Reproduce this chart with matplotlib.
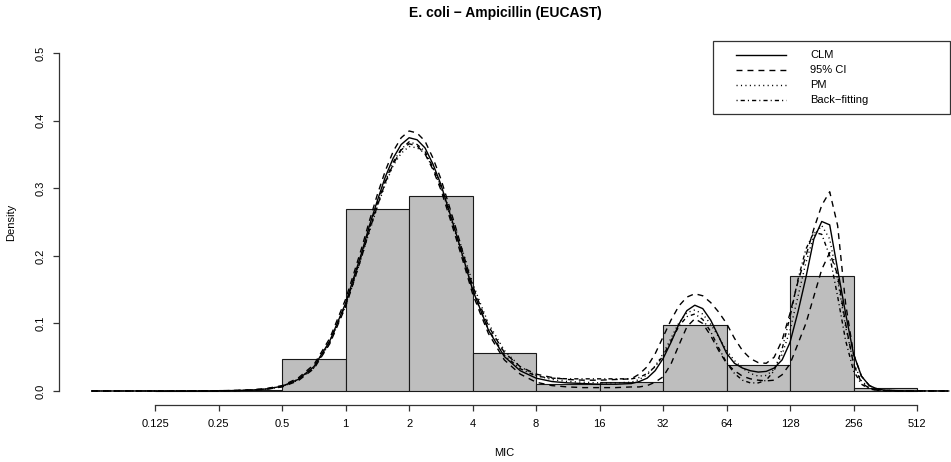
import numpy as np
import matplotlib
matplotlib.use("Agg")
import matplotlib.pyplot as plt
from matplotlib.ticker import NullLocator

plt.rcParams['font.family'] = ['Liberation Sans', 'DejaVu Sans']

# histogram of observed MICs (density per log2 bin)
BIN_EDGES = [0.125, 0.25, 0.5, 1, 2, 4, 8, 16, 32, 64, 128, 256, 512]
BIN_DENSITY = [0.0005, 0.0015, 0.047, 0.269, 0.288, 0.056, 0.011, 0.014,
               0.097, 0.039, 0.170, 0.004]

MIC_TICKS = [0.125, 0.25, 0.5, 1, 2, 4, 8, 16, 32, 64, 128, 256, 512]
MIC_LABELS = ['0.125', '0.25', '0.5', '1', '2', '4', '8', '16', '32', '64',
              '128', '256', '512']

# fitted densities, at log2(MIC) positions
LOG2_MIC = [-4, -3.5, -3, -2.5, -2, -1.75, -1.5, -1.25, -1, -0.75, -0.5, -0.25,
            0, 0.125, 0.25, 0.375, 0.5, 0.625, 0.75, 0.875, 1, 1.125, 1.25, 1.375,
            1.5, 1.625, 1.75, 1.875, 2, 2.125, 2.25, 2.5, 2.75,
            3, 3.25, 3.5, 3.75, 4, 4.25,
            4.5, 4.625, 4.75, 4.875, 5, 5.125, 5.25, 5.375, 5.5, 5.625, 5.75,
            5.875, 6, 6.125, 6.25, 6.375, 6.5, 6.625, 6.75, 6.875, 7, 7.125,
            7.25, 7.375, 7.5, 7.625, 7.75, 7.875, 8, 8.125, 8.25, 8.375, 8.5,
            8.75, 9, 9.5]

CLM = [0, 0, 0, 0.0001, 0.0003, 0.0006, 0.0013, 0.003, 0.007, 0.017, 0.036, 0.074,
       0.130, 0.167, 0.204, 0.245, 0.282, 0.317, 0.345, 0.365, 0.375, 0.372, 0.360, 0.336,
       0.306, 0.268, 0.230, 0.190, 0.150, 0.120, 0.090, 0.051, 0.030,
       0.019, 0.014, 0.012, 0.011, 0.010, 0.010,
       0.011, 0.014, 0.019, 0.030, 0.048, 0.072, 0.099, 0.119, 0.127, 0.122, 0.105,
       0.081, 0.056, 0.041, 0.034, 0.030, 0.028, 0.029, 0.034, 0.046, 0.072, 0.117,
       0.168, 0.225, 0.251, 0.246, 0.180, 0.115, 0.055, 0.022, 0.008, 0.003, 0.001,
       0.0003, 0.0001, 0]

CI_UPPER = [0, 0, 0, 0.0001, 0.0004, 0.0008, 0.0016, 0.0036, 0.008, 0.019, 0.039, 0.078,
            0.136, 0.173, 0.211, 0.252, 0.291, 0.326, 0.355, 0.375, 0.385, 0.382, 0.370, 0.345,
            0.314, 0.276, 0.237, 0.196, 0.156, 0.125, 0.096, 0.057, 0.036,
            0.025, 0.020, 0.017, 0.016, 0.016, 0.017,
            0.018, 0.025, 0.036, 0.055, 0.080, 0.105, 0.126, 0.139, 0.144, 0.141, 0.131,
            0.117, 0.100, 0.078, 0.060, 0.048, 0.042, 0.041, 0.050, 0.075, 0.115, 0.162,
            0.200, 0.240, 0.275, 0.295, 0.245, 0.130, 0.055, 0.022, 0.008, 0.003, 0.001,
            0.0003, 0.0001, 0]

CI_LOWER = [0, 0, 0, 0.0001, 0.0002, 0.0004, 0.001, 0.0025, 0.006, 0.015, 0.033, 0.070,
            0.125, 0.161, 0.198, 0.238, 0.274, 0.309, 0.336, 0.357, 0.366, 0.363, 0.351, 0.328,
            0.298, 0.261, 0.223, 0.184, 0.144, 0.114, 0.085, 0.046, 0.025,
            0.013, 0.008, 0.006, 0.005, 0.005, 0.005,
            0.006, 0.006, 0.008, 0.013, 0.021, 0.040, 0.068, 0.095, 0.107, 0.100, 0.082,
            0.060, 0.041, 0.030, 0.022, 0.018, 0.016, 0.015, 0.016, 0.024, 0.040, 0.070,
            0.100, 0.140, 0.180, 0.205, 0.172, 0.100, 0.040, 0.012, 0.004, 0.001, 0.0005,
            0.0002, 0.0001, 0]

PM = [0, 0, 0, 0.0001, 0.0003, 0.0006, 0.0012, 0.0028, 0.0065, 0.016, 0.034, 0.071,
      0.126, 0.161, 0.198, 0.236, 0.273, 0.306, 0.334, 0.352, 0.362, 0.360, 0.352, 0.330,
      0.304, 0.271, 0.235, 0.198, 0.160, 0.129, 0.100, 0.060, 0.036,
      0.023, 0.017, 0.014, 0.013, 0.012, 0.012,
      0.013, 0.017, 0.024, 0.037, 0.055, 0.078, 0.101, 0.116, 0.120, 0.114, 0.099,
      0.080, 0.060, 0.045, 0.034, 0.026, 0.022, 0.023, 0.032, 0.054, 0.090, 0.140,
      0.190, 0.230, 0.245, 0.225, 0.165, 0.095, 0.042, 0.015, 0.005, 0.002, 0.001,
      0.0003, 0.0001, 0]

BACKFIT = [0, 0, 0, 0.0001, 0.0003, 0.0006, 0.0013, 0.003, 0.007, 0.017, 0.035, 0.073,
           0.128, 0.164, 0.201, 0.241, 0.278, 0.311, 0.339, 0.358, 0.369, 0.365, 0.355, 0.331,
           0.302, 0.266, 0.228, 0.189, 0.150, 0.119, 0.091, 0.053, 0.033,
           0.022, 0.019, 0.018, 0.018, 0.018, 0.018,
           0.018, 0.020, 0.026, 0.036, 0.052, 0.074, 0.096, 0.110, 0.114, 0.106, 0.088,
           0.064, 0.042, 0.026, 0.016, 0.012, 0.012, 0.016, 0.030, 0.062, 0.110, 0.165,
           0.210, 0.235, 0.232, 0.200, 0.140, 0.075, 0.030, 0.010, 0.003, 0.001, 0.0005,
           0.0002, 0.0001, 0]

W, H = 951, 462
fig = plt.figure(figsize=(W / 100, H / 100), dpi=100)
ax = fig.add_axes([58.7 / W, 1 - 404.5 / H, (950 - 58.7) / W, (404.5 - 39.8) / H])

lefts = np.array(BIN_EDGES[:-1])
rights = np.array(BIN_EDGES[1:])
ax.bar(lefts, BIN_DENSITY, width=rights - lefts, align='edge',
       color='#bebebe', edgecolor='#1a1a1a', linewidth=0.8)

mic = 2.0 ** np.array(LOG2_MIC)
lw = 1.0
ax.plot(mic, CLM, color='black', lw=lw, ls='-')
ax.plot(mic, CI_UPPER, color='black', lw=lw, dashes=(4.3, 3.6))
ax.plot(mic, CI_LOWER, color='black', lw=lw, dashes=(4.3, 3.6))
ax.plot(mic, PM, color='black', lw=lw, dashes=(0.8, 2.4))
ax.plot(mic, BACKFIT, color='black', lw=lw, dashes=(0.8, 2.2, 3.0, 2.2))

ax.set_xscale('log', base=2)
ax.set_xlim(2 ** -4.52, 2 ** 9.52)
ax.set_ylim(-0.02, 0.52)
ax.set_xticks(MIC_TICKS)
ax.set_xticklabels(MIC_LABELS)
ax.xaxis.set_minor_locator(NullLocator())
ax.set_yticks([0, 0.1, 0.2, 0.3, 0.4, 0.5])
ax.set_yticklabels(['0.0', '0.1', '0.2', '0.3', '0.4', '0.5'], rotation=90, va='center')

for s in ['top', 'right']:
    ax.spines[s].set_visible(False)
ax.spines['left'].set_bounds(0, 0.5)
ax.spines['bottom'].set_bounds(0.125, 512)
for s in ['left', 'bottom']:
    ax.spines[s].set_color('#333333')
    ax.spines[s].set_linewidth(0.9)
ax.tick_params(axis='both', length=4.3, width=0.9, color='#333333', labelsize=8)
ax.tick_params(axis='x', pad=6)
ax.tick_params(axis='y', pad=5)

fig.text(505 / W, 1 - 13 / H, 'E. coli \u2212 Ampicillin (EUCAST)', ha='center', va='center',
         fontsize=10, fontweight='bold')
fig.text(504 / W, 1 - 453 / H, 'MIC', ha='center', va='center', fontsize=8)
fig.text(11 / W, 1 - 222 / H, 'Density', ha='center', va='center', rotation=90, fontsize=8)

# legend box, drawn in pixel coordinates
lax = fig.add_axes([0, 0, 1, 1])
lax.set_xlim(0, W)
lax.set_ylim(H, 0)
lax.axis('off')
lax.add_patch(plt.Rectangle((712.7, 40.7), 949.7 - 712.7, 114 - 40.7, fill=False,
                            edgecolor='#333333', lw=0.9))
leg_rows = [('CLM', dict(ls='-')), ('95% CI', dict(dashes=(4.3, 3.6))),
            ('PM', dict(dashes=(0.8, 2.4))), ('Back\u2212fitting', dict(dashes=(0.8, 2.2, 3.0, 2.2)))]
for i, (lab, st) in enumerate(leg_rows):
    yy = 55 + i * 15.1
    lax.plot([736, 786], [yy, yy], color='black', lw=lw, **st)
    lax.text(810, yy, lab, ha='left', va='center', fontsize=8)

fig.savefig('out.png', dpi=100)
